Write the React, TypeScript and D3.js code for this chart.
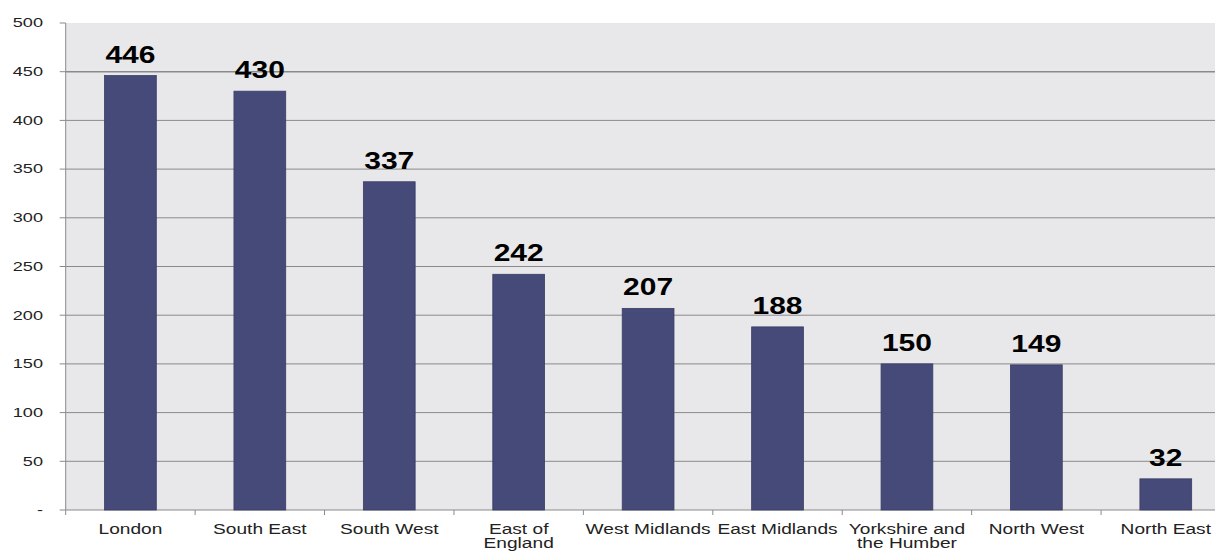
import React from "react";
import * as d3 from "d3";

const regions = [
  "London",
  "South East",
  "South West",
  "East of England",
  "West Midlands",
  "East Midlands",
  "Yorkshire and the Humber",
  "North West",
  "North East",
];
const regionLines: string[][] = [
  ["London"],
  ["South East"],
  ["South West"],
  ["East of", "England"],
  ["West Midlands"],
  ["East Midlands"],
  ["Yorkshire and", "the Humber"],
  ["North West"],
  ["North East"],
];
const counts = [446, 430, 337, 242, 207, 188, 150, 149, 32];
const yTicks = [0, 50, 100, 150, 200, 250, 300, 350, 400, 450, 500];

const W = 1215;
const H = 553;
const left = 65.7;
const right = 1230.5;
const top = 23;
const bottom = 510;

export default function App() {
  const x = d3.scaleBand<string>().domain(regions).range([left, right]).paddingInner(0.6).paddingOuter(0.3);
  const xb = d3.scaleBand<string>().domain(regions).range([left, right]);
  const y = d3.scaleLinear().domain([0, 500]).range([bottom, top]);
  const font = "'Liberation Sans', Arial, sans-serif";

  return (
    <svg
      width={W}
      height={H}
      style={{ position: "fixed", left: 0, top: 0, background: "#fff" }}
      fontFamily={font}
    >
      <rect x={left} y={top} width={right - left} height={bottom - top} fill="#e8e8ea" />
      {yTicks.slice(1, -1).map((t) => (
        <line
          key={t}
          x1={left}
          x2={right}
          y1={y(t)}
          y2={y(t)}
          stroke="#8a8a8a"
          strokeWidth={t === 450 ? 1.6 : 1}
        />
      ))}
      {/* axes */}
      <line x1={left} x2={left} y1={top} y2={bottom} stroke="#8a8a8a" strokeWidth={1} />
      <line x1={left} x2={right} y1={bottom} y2={bottom} stroke="#8a8a8a" strokeWidth={1} />
      {yTicks.map((t) => (
        <g key={t}>
          <line x1={left - 6} x2={left} y1={y(t)} y2={y(t)} stroke="#8a8a8a" />
          <text
            transform={`translate(43,${y(t)}) scale(1.45,1)`}
            dy="0.35em"
            textAnchor="end"
            fontSize={12.5}
            fill="#222"
          >
            {t === 0 ? "-" : t}
          </text>
        </g>
      ))}
      {regions.map((r) => (
        <line
          key={r}
          x1={xb(r)!}
          x2={xb(r)!}
          y1={bottom}
          y2={bottom + 5}
          stroke="#8a8a8a"
        />
      ))}
      {regions.map((r, i) => (
        <g key={r}>
          <rect
            x={x(r)!}
            y={y(counts[i])}
            width={x.bandwidth()}
            height={bottom - y(counts[i])}
            fill="#464a78"
            stroke="#3a3d66"
            strokeWidth={0.8}
          />
          <text
            transform={`translate(${x(r)! + x.bandwidth() / 2},${y(counts[i]) - 13}) scale(1.25,1)`}
            textAnchor="middle"
            fontSize={24}
            fontWeight="bold"
            fill="#000"
          >
            {counts[i]}
          </text>
          <text
            transform={`translate(${xb(r)! + xb.bandwidth() / 2},534) scale(1.32,1)`}
            textAnchor="middle"
            fontSize={14.5}
            fill="#222"
          >
            {regionLines[i].map((ln, j) => (
              <tspan key={j} x={0} dy={j === 0 ? 0 : 14}>
                {ln}
              </tspan>
            ))}
          </text>
        </g>
      ))}
    </svg>
  );
}
